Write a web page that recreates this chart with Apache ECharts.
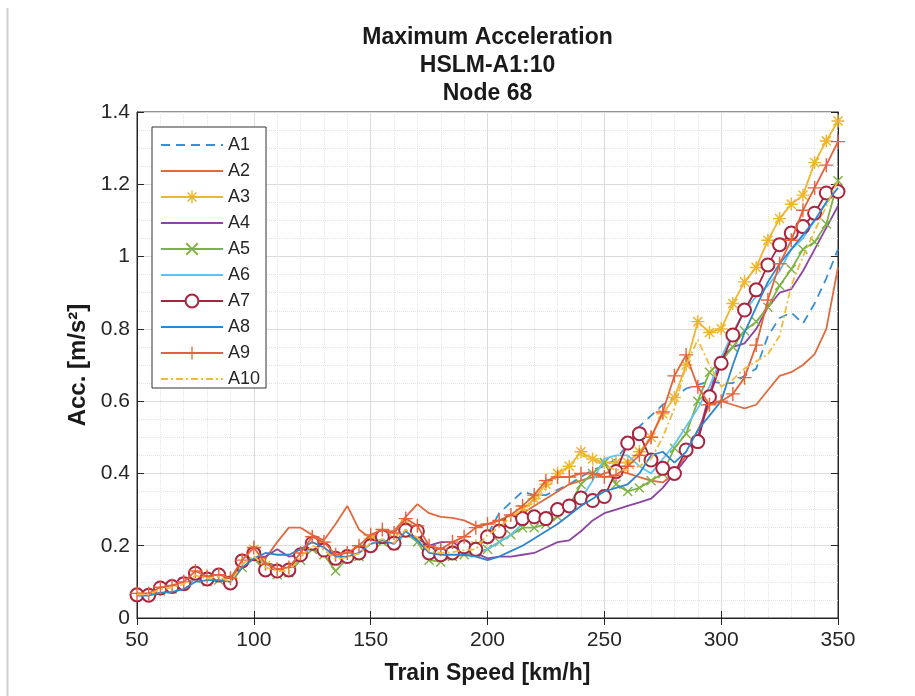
<!DOCTYPE html>
<html><head><meta charset="utf-8">
<script src="https://cdn.jsdelivr.net/npm/echarts@6/dist/echarts.min.js"></script>
<style>html,body{margin:0;padding:0;background:#fff}#c{width:915px;height:696px}</style>
</head><body><div id="c"></div>
<script>
const speeds = [50,55,60,65,70,75,80,85,90,95,100,105,110,115,120,125,130,135,140,145,150,155,160,165,170,175,180,185,190,195,200,205,210,215,220,225,230,235,240,245,250,255,260,265,270,275,280,285,290,295,300,305,310,315,320,325,330,335,340,345,350];
const xTicks = [50,100,150,200,250,300,350];
const yTicks = [0,0.2,0.4,0.6,0.8,1,1.2,1.4];
const names = ['A1','A2','A3','A4','A5','A6','A7','A8','A9','A10'];

const A1 = [0.065,0.066,0.078,0.083,0.092,0.115,0.108,0.112,0.10,0.15,0.17,0.15,0.145,0.14,0.17,0.20,0.19,0.17,0.17,0.18,0.21,0.215,0.205,0.24,0.22,0.19,0.18,0.185,0.19,0.20,
 0.23,0.29,0.32,0.35,0.34,0.34,0.355,0.37,0.39,0.41,0.42,0.44,0.48,0.53,0.56,0.59,0.61,0.635,0.645,0.655,0.65,0.65,0.67,0.69,0.78,0.83,0.845,0.815,0.87,0.94,1.02];
const A2 = [0.065,0.065,0.08,0.086,0.095,0.12,0.11,0.115,0.10,0.15,0.175,0.165,0.21,0.25,0.25,0.23,0.215,0.26,0.31,0.245,0.22,0.24,0.24,0.28,0.315,0.29,0.28,0.277,0.27,0.255,
 0.26,0.27,0.28,0.29,0.31,0.33,0.35,0.37,0.38,0.39,0.40,0.41,0.40,0.39,0.38,0.375,0.40,0.45,0.52,0.59,0.60,0.59,0.58,0.59,0.63,0.67,0.68,0.70,0.73,0.80,0.97];
const A3 = [0.065,0.066,0.08,0.088,0.10,0.125,0.112,0.118,0.105,0.155,0.19,0.145,0.13,0.135,0.175,0.215,0.20,0.17,0.175,0.19,0.22,0.23,0.22,0.26,0.235,0.19,0.185,0.19,0.195,0.20,
 0.22,0.25,0.27,0.30,0.33,0.37,0.40,0.42,0.46,0.44,0.43,0.43,0.43,0.46,0.50,0.565,0.61,0.70,0.82,0.79,0.80,0.87,0.93,0.97,1.045,1.105,1.145,1.17,1.26,1.32,1.375];
const A4 = [0.065,0.065,0.078,0.083,0.092,0.115,0.108,0.11,0.10,0.145,0.17,0.17,0.19,0.17,0.175,0.205,0.19,0.165,0.17,0.18,0.21,0.215,0.205,0.24,0.22,0.20,0.21,0.21,0.19,0.18,
 0.165,0.17,0.17,0.175,0.18,0.195,0.21,0.215,0.24,0.27,0.29,0.30,0.31,0.32,0.33,0.36,0.40,0.44,0.50,0.62,0.72,0.75,0.76,0.80,0.86,0.90,0.91,0.96,1.02,1.08,1.14];
const A5 = [0.065,0.063,0.075,0.08,0.09,0.11,0.10,0.105,0.095,0.14,0.165,0.13,0.12,0.125,0.16,0.19,0.175,0.13,0.165,0.17,0.20,0.21,0.20,0.235,0.21,0.16,0.155,0.17,0.175,0.18,
 0.19,0.21,0.23,0.25,0.25,0.26,0.28,0.31,0.37,0.40,0.43,0.37,0.35,0.36,0.38,0.40,0.47,0.51,0.60,0.68,0.71,0.75,0.795,0.82,0.86,0.92,0.965,1.02,1.04,1.09,1.21];
const A6 = [0.065,0.064,0.077,0.082,0.09,0.112,0.105,0.11,0.098,0.145,0.168,0.145,0.135,0.135,0.168,0.20,0.185,0.16,0.165,0.175,0.205,0.212,0.20,0.235,0.215,0.18,0.175,0.178,0.182,0.18,
 0.19,0.21,0.23,0.26,0.28,0.29,0.30,0.31,0.33,0.38,0.44,0.45,0.45,0.42,0.40,0.44,0.48,0.53,0.58,0.64,0.72,0.79,0.85,0.89,0.92,0.96,1.02,1.05,1.10,1.15,1.185];
const A7 = [0.064,0.063,0.083,0.087,0.095,0.124,0.108,0.119,0.097,0.158,0.178,0.133,0.13,0.133,0.175,0.207,0.188,0.165,0.17,0.18,0.20,0.225,0.207,0.243,0.24,0.18,0.175,0.18,0.197,0.19,
 0.225,0.24,0.267,0.275,0.28,0.275,0.30,0.31,0.332,0.325,0.336,0.405,0.484,0.51,0.437,0.414,0.40,0.465,0.488,0.612,0.705,0.783,0.852,0.908,0.977,1.033,1.065,1.083,1.12,1.176,1.18];
const A8 = [0.062,0.062,0.07,0.072,0.08,0.10,0.105,0.105,0.10,0.14,0.165,0.18,0.175,0.175,0.19,0.21,0.195,0.17,0.17,0.18,0.205,0.215,0.205,0.24,0.215,0.18,0.175,0.175,0.175,0.17,
 0.16,0.17,0.185,0.20,0.22,0.24,0.26,0.285,0.31,0.33,0.35,0.36,0.37,0.40,0.45,0.46,0.43,0.46,0.52,0.56,0.60,0.70,0.79,0.86,0.93,0.98,1.02,1.06,1.10,1.15,1.19];
const A9 = [0.068,0.068,0.085,0.09,0.10,0.13,0.115,0.12,0.11,0.16,0.195,0.15,0.135,0.14,0.18,0.225,0.21,0.175,0.18,0.20,0.23,0.245,0.235,0.275,0.255,0.20,0.19,0.21,0.225,0.25,
 0.26,0.27,0.285,0.31,0.34,0.38,0.39,0.39,0.40,0.40,0.39,0.395,0.42,0.45,0.50,0.57,0.67,0.728,0.64,0.59,0.60,0.62,0.665,0.755,0.88,0.98,1.045,1.128,1.19,1.253,1.318];
const A10 = [0.065,0.065,0.079,0.085,0.094,0.118,0.11,0.114,0.10,0.148,0.172,0.14,0.13,0.13,0.168,0.20,0.188,0.163,0.168,0.178,0.208,0.218,0.208,0.245,0.222,0.185,0.18,0.182,0.188,0.19,
 0.23,0.25,0.28,0.30,0.32,0.36,0.39,0.42,0.45,0.44,0.42,0.41,0.41,0.42,0.44,0.50,0.58,0.70,0.77,0.70,0.64,0.66,0.69,0.71,0.73,0.78,0.92,1.0,1.07,1.14,1.21];

const values = [A1,A2,A3,A4,A5,A6,A7,A8,A9,A10];
const colors = ['#3b8fd3','#e26a3f','#efb52c','#8e44a3','#7cb342','#62c3ef','#a8243f','#2f86cc','#e5623a','#f0bb3c'];
const lineTypes = [[9,6],'solid','solid','solid','solid','solid','solid','solid','solid',[7,3,2,3]];

const P_PLUS = 'path://M4.5,0H5.5V4.5H10V5.5H5.5V10H4.5V5.5H0V4.5H4.5Z';
const P_X = 'path://M0,1L1,0L5,4L9,0L10,1L6,5L10,9L9,10L5,6L1,10L0,9L4,5Z';
const P_STAR = 'path://M4.45,0H5.55V4.45H10V5.55H5.55V10H4.45V5.55H0V4.45H4.45Z M1.1,1.9L1.9,1.1L5,4.2L8.1,1.1L8.9,1.9L5.8,5L8.9,8.1L8.1,8.9L5,5.8L1.9,8.9L1.1,8.1L4.2,5Z';
const symbols = ['circle','circle',P_STAR,'circle',P_X,'circle','emptyCircle','circle',P_PLUS,'circle'];
const hasMarker = [false,false,true,false,true,false,true,false,true,false];
const symbolSizes = [8,8,13,8,10,8,13,8,14,8];

const font = '"Liberation Sans", Arial, sans-serif';
const series = names.map((n,k)=>({
  name: n, type: 'line',
  data: values[k].map((v,i)=>[speeds[i], v]),
  showSymbol: hasMarker[k],
  symbol: symbols[k], symbolSize: symbolSizes[k],
  lineStyle: {color: colors[k], width: 1.8, type: lineTypes[k]},
  itemStyle: symbols[k]==='emptyCircle' ? {color: colors[k], borderColor: colors[k], borderWidth: 1.6} : {color: colors[k], borderWidth: 0},
  emphasis: {disabled: true},
  animation: false,
  z: 2 + k
}));

const legendData = names.map((n,k)=> hasMarker[k] ? {name: n} : {name: n, itemStyle: {opacity: 0}});

const chart = echarts.init(document.getElementById('c'), null, {renderer:'canvas'});
chart.setOption({
  backgroundColor: '#fff',
  animation: false,
  color: colors,
  title: {
    text: 'Maximum Acceleration\nHSLM-A1:10\nNode 68',
    left: 487.5, top: 24, textAlign: 'center', padding: 0,
    textStyle: {fontFamily: font, fontSize: 23, fontWeight: 'bold', color: '#1a1a1a', lineHeight: 28}
  },
  legend: {
    orient: 'vertical', left: 152, top: 127,
    data: legendData,
    itemWidth: 62, itemHeight: 16, itemGap: 8,
    padding: [9, 6, 0, 8],
    backgroundColor: '#fff', borderColor: '#333', borderWidth: 1,
    textStyle: {fontFamily: font, fontSize: 18, lineHeight: 16, color: '#262626'},
    selectedMode: false
  },
  grid: {left: 137, right: 77, top: 112, bottom: 78, show: true, borderColor: '#262626', borderWidth: 1, backgroundColor: 'transparent'},
  xAxis: [{
    type: 'value', min: xTicks[0], max: xTicks[xTicks.length-1], interval: 50,
    name: 'Train Speed [km/h]', nameLocation: 'middle', nameGap: 44,
    nameTextStyle: {fontFamily: font, fontSize: 23, fontWeight: 'bold', color: '#1a1a1a'},
    axisLine: {lineStyle: {color: '#262626'}},
    axisTick: {inside: true, length: 7, lineStyle: {color: '#262626'}},
    axisLabel: {fontFamily: font, fontSize: 21, color: '#262626', margin: 12},
    splitLine: {show: true, lineStyle: {color: '#dcdcdc', width: 1}},
    minorTick: {show: false, splitNumber: 5},
    minorSplitLine: {show: true, lineStyle: {color: '#e4e4e4', type: 'dotted', width: 1}}
  },{
    type: 'value', position: 'top', min: 50, max: 350, interval: 50,
    axisLine: {show: true, lineStyle: {color: '#262626'}},
    axisTick: {inside: true, length: 7, lineStyle: {color: '#262626'}},
    axisLabel: {show: false}, splitLine: {show: false}
  }],
  yAxis: [{
    type: 'value', min: yTicks[0], max: yTicks[yTicks.length-1], interval: 0.2,
    name: 'Acc. [m/s²]', nameLocation: 'middle', nameGap: 40,
    nameTextStyle: {fontFamily: font, fontSize: 24, fontWeight: 'bold', color: '#1a1a1a'},
    axisLine: {show: true, lineStyle: {color: '#262626'}},
    axisTick: {show: true, inside: true, length: 7, lineStyle: {color: '#262626'}},
    axisLabel: {fontFamily: font, fontSize: 21, color: '#262626', margin: 7},
    splitLine: {show: true, lineStyle: {color: '#dcdcdc', width: 1}},
    minorTick: {show: false, splitNumber: 4},
    minorSplitLine: {show: true, lineStyle: {color: '#e4e4e4', type: 'dotted', width: 1}}
  },{
    type: 'value', position: 'right', min: 0, max: 1.4, interval: 0.2,
    axisLine: {show: true, lineStyle: {color: '#262626'}},
    axisTick: {show: true, inside: true, length: 7, lineStyle: {color: '#262626'}},
    axisLabel: {show: false}, splitLine: {show: false}
  }],
  graphic: [{type: 'line', shape: {x1: 7.5, y1: 8, x2: 7.5, y2: 696}, style: {stroke: '#d0d0d0', lineWidth: 2}, silent: true}],
  series: series
});
</script></body></html>
